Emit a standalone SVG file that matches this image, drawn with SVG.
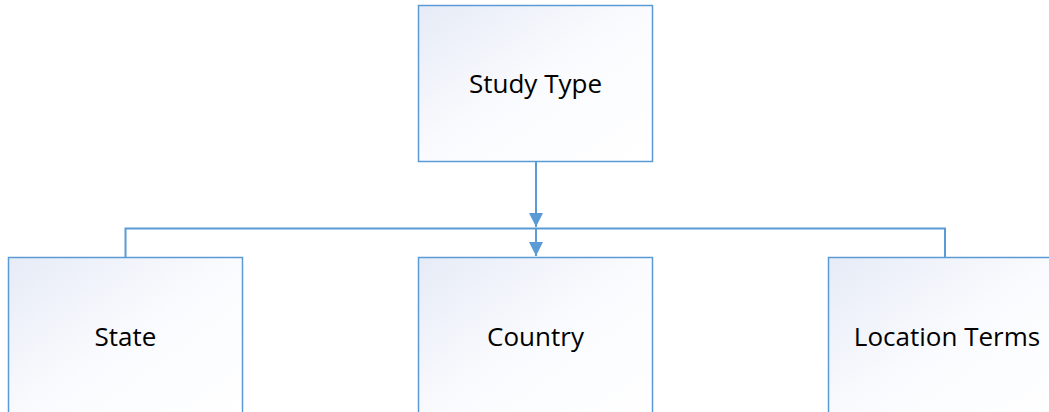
<svg xmlns="http://www.w3.org/2000/svg" width="1049" height="412" viewBox="0 0 1049 412">
<defs>
<linearGradient id="g" x1="0" y1="0" x2="1" y2="1">
<stop offset="0" stop-color="#e6ebf6"/>
<stop offset="0.5" stop-color="#fafbfe"/>
<stop offset="1" stop-color="#ffffff"/>
</linearGradient>
<marker id="arr" markerWidth="14" markerHeight="14" refX="14" refY="7" orient="auto" markerUnits="userSpaceOnUse">
<path d="M0,0 L14,7 L0,14 Z" fill="#5b9bd5"/>
</marker>
</defs>
<style>
.box{fill:url(#g);stroke:#5b9bd5;stroke-width:1.5}
.lbl{font-family:"Open Sans","Liberation Sans",sans-serif;font-size:26px;fill:#000;text-anchor:middle}
.con{fill:none;stroke:#5b9bd5;stroke-width:2}
</style>
<g id="connectors">
<path class="con" d="M536,162 V227" marker-end="url(#arr)"/>
<path class="con" d="M125.5,257 V228.5 H945 V257"/>
<path class="con" d="M536,228.5 V256" marker-end="url(#arr)"/>
</g>
<g id="study-type">
<rect class="box" x="418.5" y="5.5" width="234" height="156"/>
<text class="lbl" x="535.5" y="93">Study Type</text>
</g>
<g id="state">
<rect class="box" x="8.5" y="257.5" width="234" height="170"/>
<text class="lbl" x="125.5" y="346">State</text>
</g>
<g id="country">
<rect class="box" x="418.5" y="257.5" width="234" height="170"/>
<text class="lbl" x="535.5" y="346">Country</text>
</g>
<g id="location-terms">
<rect class="box" x="828.5" y="257.5" width="234" height="170"/>
<text class="lbl" x="947" y="346">Location Terms</text>
</g>
</svg>
